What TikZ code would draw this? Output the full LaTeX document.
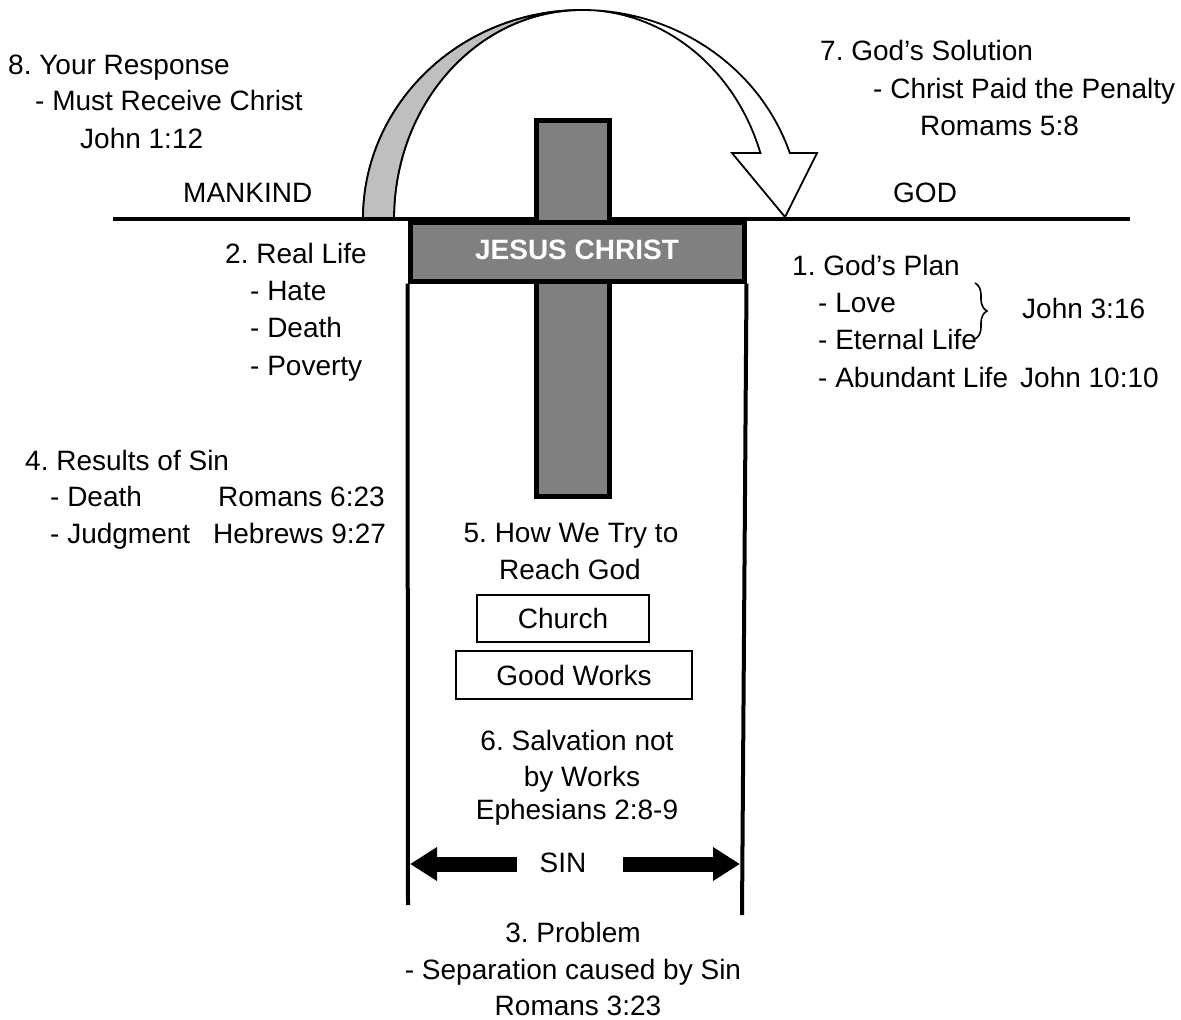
\documentclass[tikz,border=0pt]{standalone}
\usepackage{fontspec}
\setmainfont{Liberation Sans}
\frenchspacing
\usetikzlibrary{arrows.meta,decorations.pathreplacing}
\tikzset{
  txt/.style={anchor=base west, inner sep=0pt, font=\fontsize{28}{37}\selectfont},
  ctxt/.style={txt, anchor=base},
  wbox/.style={draw=black, line width=2pt, inner sep=0pt, font=\fontsize{28}{37}\selectfont},
  sinarrow/.style={line width=15pt, -{Triangle[length=27pt, width=32pt]}}
}
\begin{document}
\begin{tikzpicture}[x=1pt, y=-1pt]
\useasboundingbox (0,0) rectangle (1181,1020);
\draw[black, line width=1.8pt, fill=white] (363,219) arc[start angle=180, end angle=341.6, x radius=219, y radius=209] -- (817,153) -- (785,217) -- (732,153) -- (760.4,153) arc[start angle=341.6, end angle=180, x radius=188, y radius=209] -- cycle;
\draw[black, line width=1.8pt, fill=lightgray] (363,219) arc[start angle=180, end angle=270, x radius=219, y radius=209] arc[start angle=270, end angle=180, x radius=188, y radius=209] -- cycle;
\draw[black, line width=4pt] (113,219) -- (1130,219);
\draw[black, line width=5pt, fill=gray] (536,120) rectangle (609,496);
\node[draw=black, line width=5pt, fill=gray, minimum width=334, minimum height=59, inner sep=0pt, text=white, font=\bfseries\fontsize{28}{30}\selectfont] (jc) at (577,251.5) {\raisebox{4pt}{JESUS CHRIST}};
\draw[black, line width=4pt] (jc.south west) -- (408,905);
\draw[black, line width=4pt] (jc.south east) -- (742,915);
\node[txt] (resp) at (8,74) {8. Your Response};
\node[txt] (respa) at (35,110) {- Must Receive Christ};
\node[txt] (respb) at (80,148) {John 1:12};
\node[txt] (mankind) at (183,202) {MANKIND};
\node[txt] (god) at (893,202) {GOD};
\node[txt] (sol) at (820,60) {7. God’s Solution};
\node[txt] (sola) at (873,98) {- Christ Paid the Penalty};
\node[txt] (solb) at (920,135) {Romams 5:8};
\node[txt] (real) at (225,263) {2. Real Life};
\node[txt] (hate) at (250,300) {- Hate};
\node[txt] (death) at (250,337) {- Death};
\node[txt] (pov) at (250,375) {- Poverty};
\node[txt] (plan) at (792,275) {1. God’s Plan};
\node[txt] (love) at (818,312) {- Love};
\node[txt] (eternal) at (818,349) {- Eternal Life};
\node[txt] (abund) at (818,387) {- Abundant Life};
\node[txt] (jn1010) at (1020,387) {John 10:10};
\node[txt] (jn316) at (1022,318) {John 3:16};
\draw[black, line width=1.6pt, decorate, decoration={brace, amplitude=12pt}] (975,283) -- (975,339);
\node[txt] (results) at (25,470) {4. Results of Sin};
\node[txt] (rdeath) at (50,506) {- Death};
\node[txt] (rom623) at (218,506) {Romans 6:23};
\node[txt] (judg) at (50,543) {- Judgment};
\node[txt] (heb927) at (213,543) {Hebrews 9:27};
\node[ctxt] (how) at (571,542) {5. How We Try to};
\node[ctxt] (reach) at (570,579) {Reach God};
\node[wbox, minimum width=172, minimum height=47] (church) at (563,618.5) {Church};
\node[wbox, minimum width=236, minimum height=48] (works) at (574,675) {Good Works};
\node[ctxt] (salv) at (577,750) {6. Salvation not};
\node[ctxt] (byw) at (582,786) {by Works};
\node[ctxt] (eph) at (577,819) {Ephesians 2:8-9};
\node[font=\fontsize{28}{37}\selectfont, inner sep=0pt] (sin) at (563,863) {SIN};
\coordinate (sinl) at (517,864);
\coordinate (sinr) at (623,864);
\draw[black, sinarrow] (sinl) -- (410,864);
\draw[black, sinarrow] (sinr) -- (740,864);
\node[ctxt] (prob) at (573,942) {3. Problem};
\node[ctxt] (sep) at (573,979) {- Separation caused by Sin};
\node[ctxt] (rom323) at (578,1015) {Romans 3:23};
\end{tikzpicture}
\end{document}
